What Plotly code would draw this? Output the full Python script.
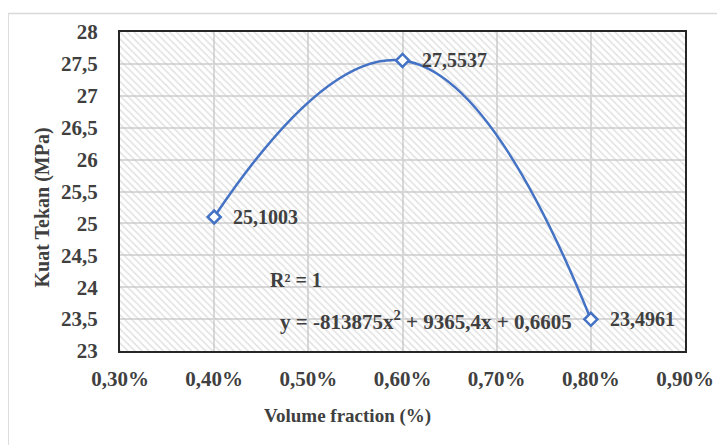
import plotly.graph_objects as go

# Data
volume_fraction = [0.004, 0.006, 0.008]
kuat_tekan = [25.1003, 27.5537, 23.4961]
point_labels = ["25,1003", "27,5537", "23,4961"]

x_tickvals = [0.003, 0.004, 0.005, 0.006, 0.007, 0.008, 0.009]
x_ticktext = ["0,30%", "0,40%", "0,50%", "0,60%", "0,70%", "0,80%", "0,90%"]
y_tickvals = [23, 23.5, 24, 24.5, 25, 25.5, 26, 26.5, 27, 27.5, 28]
y_ticktext = ["23", "23,5", "24", "24,5", "25", "25,5", "26", "26,5", "27", "27,5", "28"]

equation_text = "y = -813875x<sup>2</sup> + 9365,4x + 0,6605"
r2_text = "R² = 1"
x_title = "Volume fraction (%)"
y_title = "Kuat Tekan (MPa)"

XR = [x_tickvals[0], x_tickvals[-1]]
YR = [y_tickvals[0], y_tickvals[-1]]

FONT = "Liberation Serif"
TXT = "#404040"
BLUE = "#4472C4"

def f(size=20):
    return dict(family=FONT, size=size, color=TXT, weight="bold")

fig = go.Figure()

# hatched plot-area background
fig.add_trace(go.Scatter(
    x=[XR[0], XR[1], XR[1], XR[0], XR[0]],
    y=[YR[0], YR[0], YR[1], YR[1], YR[0]],
    mode="lines", line=dict(width=0), fill="toself",
    fillcolor="rgba(0,0,0,0)",
    fillpattern=dict(shape="\\", fgcolor="#c4c4c4", bgcolor="rgba(255,255,255,0)",
                     size=5, solidity=0.3),
    hoverinfo="skip", showlegend=False,
))

fig.add_trace(go.Scatter(
    x=volume_fraction, y=kuat_tekan,
    mode="lines+markers",
    line=dict(color=BLUE, width=2.5, shape="spline", smoothing=1.3),
    marker=dict(symbol="diamond", size=10, color="white",
                line=dict(color=BLUE, width=2.5)),
    showlegend=False,
))

annotations = []
for xv, yv, lab in zip(volume_fraction, kuat_tekan, point_labels):
    annotations.append(dict(x=xv, y=yv, xref="x", yref="y", text=lab, showarrow=False,
                            xanchor="left", yanchor="middle", xshift=17, font=f(20)))

annotations += [
    dict(x=0.00457, y=24.12, xref="x", yref="y", text=r2_text, showarrow=False,
         xanchor="left", yanchor="middle", font=f(20)),
    dict(x=0.00468, y=23.475, xref="x", yref="y", text=equation_text, showarrow=False,
         xanchor="left", yanchor="middle", font=f(21)),
    dict(x=0.402, y=-0.2036, xref="paper", yref="paper", text=x_title, showarrow=False,
         xanchor="center", yanchor="middle", font=f(19)),
    dict(x=-0.138, y=0.45, xref="paper", yref="paper", text=y_title, showarrow=False,
         textangle=-90, xanchor="center", yanchor="middle", font=f(20)),
]

fig.update_layout(
    width=725, height=445,
    margin=dict(l=112, r=48, t=14, b=102),
    paper_bgcolor="white", plot_bgcolor="white",
    font=f(20),
    annotations=annotations,
    shapes=[dict(type="rect", xref="paper", yref="paper",
                 x0=-0.198, x1=1.3, y0=-0.5, y1=1.058,
                 line=dict(color="#d9d9d9", width=1.5), fillcolor="rgba(0,0,0,0)",
                 layer="below")],
)

fig.update_xaxes(
    range=XR, tickvals=x_tickvals, ticktext=x_ticktext,
    showgrid=True, gridcolor="#d9d9d9", gridwidth=1.5,
    showline=True, linecolor="#262626", linewidth=2, mirror=True,
    ticks="", ticklabelstandoff=8, zeroline=False, tickfont=f(21),
)
fig.update_yaxes(
    range=YR, tickvals=y_tickvals, ticktext=y_ticktext,
    showgrid=True, gridcolor="#d9d9d9", gridwidth=1.5,
    showline=True, linecolor="#262626", linewidth=2, mirror=True,
    ticks="", ticklabelstandoff=16, zeroline=False, tickfont=f(21),
)

fig.write_html("out.html")
